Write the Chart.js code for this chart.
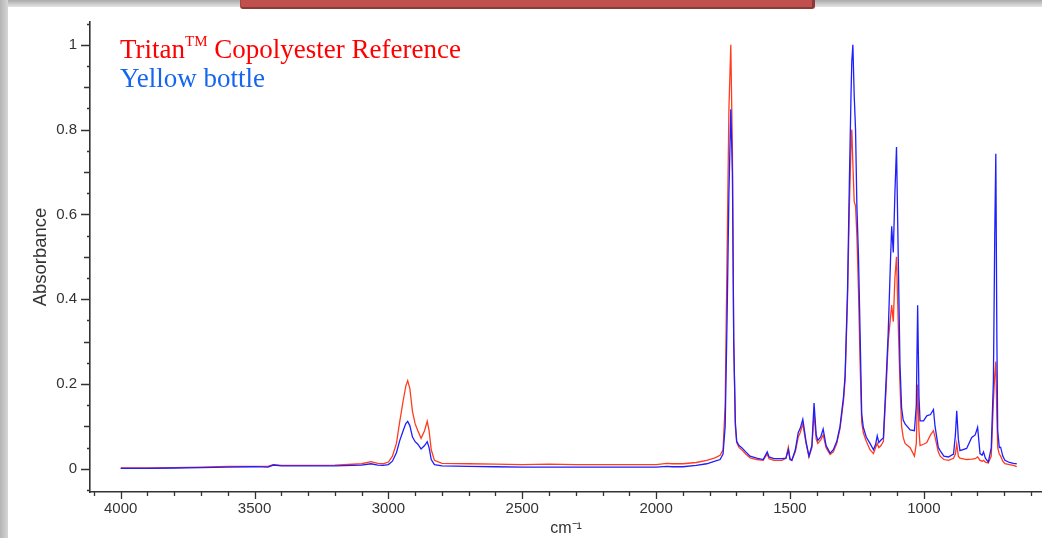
<!DOCTYPE html>
<html>
<head>
<meta charset="utf-8">
<script src="https://cdn.jsdelivr.net/npm/chart.js@4.4.1/dist/chart.umd.min.js"></script>
<style>
  html, body { margin: 0; padding: 0; background: #fff; }
  #wrap { position: relative; width: 1042px; height: 538px; overflow: hidden; background: #fff; }
  #spectrum { position: absolute; left: 0; top: 0; }
  .edge-top { position: absolute; left: 0; top: 0; width: 1042px; height: 7px; background: linear-gradient(to bottom, #aaaaaa, #e4e4e4); }
  .edge-left { position: absolute; left: 0; top: 0; width: 8px; height: 538px; background: linear-gradient(to right, #b4b4b4, #d6d6d6); }
  .banner { position: absolute; left: 240px; top: 0; width: 571px; height: 7px; background: #c0504d; border-bottom: 2px solid #8c3a38; border-right: 3px solid #8c3a38; border-left: 1px solid #a84542; border-radius: 0 0 3px 3px; }
  .legend { position: absolute; left: 120px; top: 35px; font-family: "Liberation Serif", "Times New Roman", serif; font-size: 27px; line-height: 29px; white-space: nowrap; }
  .legend .ref { color: #ff0000; }
  .legend .bottle { color: #1466f0; }
  .legend .tm { font-size: 15px; line-height: 0; position: relative; top: -12px; }
</style>
</head>
<body>
<div id="wrap">
  <canvas id="spectrum" width="1042" height="538"></canvas>
  <div class="edge-top"></div>
  <div class="edge-left"></div>
  <div class="banner"></div>
  <div class="legend">
    <div class="ref">Tritan<span class="tm">TM</span> Copolyester Reference</div>
    <div class="bottle">Yellow bottle</div>
  </div>
</div>
<script>
// wavenumber (cm-1) and absorbance
const wavenumbers = [4000, 3900, 3800, 3700, 3600, 3500, 3450, 3430, 3400, 3300, 3200, 3100, 3065, 3040, 3020, 3000,
  2985, 2970, 2958, 2945, 2935, 2928, 2920, 2910, 2900, 2890, 2878, 2865, 2855, 2848, 2840, 2828, 2800, 2700, 2600,
  2500, 2400, 2300, 2200, 2100, 2000, 1960, 1940, 1900, 1850, 1811, 1780, 1761, 1750, 1742, 1735, 1728, 1721, 1715,
  1710, 1704, 1699, 1690, 1680, 1665, 1649, 1624, 1600, 1585, 1578, 1560, 1530, 1515, 1506, 1500, 1493, 1480, 1469,
  1462, 1452, 1440, 1429, 1418, 1410, 1402, 1396, 1385, 1376, 1365, 1350, 1338, 1325, 1313, 1300, 1294, 1285, 1278,
  1272, 1269, 1265, 1260, 1255, 1250, 1244, 1238, 1232, 1226, 1215, 1201, 1188, 1180, 1174, 1168, 1160, 1151, 1140,
  1133, 1124, 1120, 1114, 1108, 1102, 1095, 1089, 1083, 1077, 1070, 1051, 1035, 1028, 1023, 1018, 1014, 1001, 989,
  975, 964, 958, 946, 939, 925, 908, 889, 882, 877, 871, 865, 840, 821, 808, 799, 790, 782, 777, 770, 759, 748, 740,
  735, 731, 727, 724, 718, 713, 705, 697, 680, 665, 653];

const tritanAbs = [0.002, 0.002, 0.003, 0.004, 0.006, 0.006, 0.006, 0.010, 0.008, 0.008, 0.009, 0.012, 0.017, 0.013, 0.012, 0.016,
  0.030, 0.060, 0.110, 0.160, 0.195, 0.208, 0.190, 0.135, 0.106, 0.090, 0.072, 0.090, 0.112, 0.090, 0.045, 0.020, 0.013, 0.012, 0.011,
  0.010, 0.011, 0.010, 0.010, 0.010, 0.010, 0.013, 0.012, 0.012, 0.015, 0.020, 0.026, 0.032, 0.045, 0.150, 0.500, 0.850, 1.000, 0.750,
  0.300, 0.100, 0.062, 0.050, 0.045, 0.035, 0.026, 0.022, 0.020, 0.035, 0.024, 0.020, 0.020, 0.025, 0.051, 0.025, 0.020, 0.040, 0.075,
  0.085, 0.106, 0.060, 0.028, 0.050, 0.133, 0.070, 0.060, 0.068, 0.080, 0.050, 0.034, 0.040, 0.060, 0.095, 0.160, 0.210, 0.400, 0.620,
  0.760, 0.800, 0.720, 0.630, 0.620, 0.550, 0.420, 0.250, 0.110, 0.085, 0.065, 0.045, 0.036, 0.050, 0.060, 0.050, 0.055, 0.065, 0.200,
  0.300, 0.360, 0.386, 0.347, 0.450, 0.500, 0.330, 0.200, 0.100, 0.074, 0.060, 0.050, 0.030, 0.060, 0.199, 0.090, 0.055, 0.058, 0.062,
  0.080, 0.090, 0.075, 0.040, 0.030, 0.022, 0.020, 0.025, 0.035, 0.059, 0.030, 0.025, 0.022, 0.023, 0.024, 0.028, 0.020, 0.018, 0.020, 0.016, 0.014, 0.030, 0.160,
  0.220, 0.253, 0.120, 0.050, 0.035, 0.030, 0.018, 0.012, 0.010, 0.008, 0.005];

const bottleAbs = [0.001, 0.001, 0.002, 0.003, 0.004, 0.005, 0.004, 0.009, 0.007, 0.007, 0.007, 0.009, 0.012, 0.009, 0.008, 0.010,
  0.018, 0.038, 0.066, 0.090, 0.107, 0.112, 0.102, 0.075, 0.064, 0.058, 0.047, 0.055, 0.064, 0.050, 0.022, 0.010, 0.007, 0.006, 0.005,
  0.004, 0.004, 0.004, 0.004, 0.004, 0.004, 0.006, 0.005, 0.005, 0.008, 0.012, 0.018, 0.022, 0.035, 0.100, 0.350, 0.650, 0.848, 0.700,
  0.300, 0.110, 0.065, 0.055, 0.050, 0.040, 0.030, 0.025, 0.022, 0.040, 0.028, 0.024, 0.024, 0.025, 0.045, 0.022, 0.020, 0.045, 0.086,
  0.095, 0.117, 0.065, 0.030, 0.055, 0.155, 0.080, 0.067, 0.075, 0.094, 0.055, 0.037, 0.045, 0.065, 0.100, 0.170, 0.220, 0.420, 0.680,
  0.880, 0.960, 1.000, 0.880, 0.800, 0.620, 0.500, 0.320, 0.130, 0.098, 0.075, 0.060, 0.045, 0.058, 0.078, 0.062, 0.068, 0.073, 0.220,
  0.320, 0.500, 0.572, 0.510, 0.650, 0.759, 0.480, 0.246, 0.144, 0.115, 0.106, 0.092, 0.090, 0.150, 0.386, 0.170, 0.113, 0.113, 0.125,
  0.128, 0.140, 0.100, 0.051, 0.043, 0.030, 0.028, 0.035, 0.080, 0.137, 0.070, 0.043, 0.048, 0.074, 0.080, 0.098, 0.036, 0.032, 0.040, 0.025, 0.016, 0.050, 0.207,
  0.550, 0.743, 0.300, 0.090, 0.050, 0.051, 0.030, 0.020, 0.015, 0.013, 0.012];

const xLabelTicks = [1000, 1500, 2000, 2500, 3000, 3500, 4000];
const yLabelTicks = [0, 0.2, 0.4, 0.6, 0.8, 1];

const xMin = 558.5, xMax = 4114.7;
const yMin = -0.0546, yMax = 1.0537;

// minor tick positions every 100 cm-1 and every 0.05 absorbance
const xTickMarks = [];
for (let v = 600; v <= 4100; v += 100) xTickMarks.push(v);
const yTickMarks = [];
for (let k = -1; k <= 21; k++) yTickMarks.push(k / 20);

const tickMarks = {
  id: 'tickMarks',
  afterDraw(chart) {
    const { ctx, scales: { x, y } } = chart;
    ctx.save();
    ctx.strokeStyle = '#333';
    ctx.lineWidth = 1.3;
    ctx.beginPath();
    xTickMarks.forEach((v) => {
      const px = Math.round(x.getPixelForValue(v)) + 0.5;
      const len = v % 500 === 0 ? 7 : 4;
      ctx.moveTo(px, chart.chartArea.bottom);
      ctx.lineTo(px, chart.chartArea.bottom + len);
    });
    yTickMarks.forEach((v) => {
      const py = Math.round(y.getPixelForValue(v)) + 0.5;
      const k = Math.round(v * 20);
      const len = k % 4 === 0 ? 9 : (k % 2 === 0 ? 6 : 3);
      ctx.moveTo(chart.chartArea.left, py);
      ctx.lineTo(chart.chartArea.left - len, py);
    });
    ctx.stroke();
    ctx.restore();
  }
};

function toPoints(values) {
  return wavenumbers.map((w, i) => ({ x: w, y: values[i] }));
}

new Chart(document.getElementById('spectrum'), {
  type: 'line',
  data: {
    datasets: [
      {
        label: 'Tritan Copolyester Reference',
        data: toPoints(tritanAbs),
        borderColor: 'rgb(255, 60, 30)',
        borderWidth: 1.3,
        pointRadius: 0,
        tension: 0,
        order: 2
      },
      {
        label: 'Yellow bottle',
        data: toPoints(bottleAbs),
        borderColor: 'rgb(30, 30, 255)',
        borderWidth: 1.3,
        pointRadius: 0,
        tension: 0,
        order: 1
      }
    ]
  },
  options: {
    responsive: false,
    animation: false,
    layout: { padding: { top: 17, left: 27, right: 0, bottom: 0 } },
    plugins: { legend: { display: false }, tooltip: { enabled: false } },
    scales: {
      x: {
        type: 'linear',
        reverse: true,
        min: xMin,
        max: xMax,
        afterBuildTicks: (scale) => { scale.ticks = xLabelTicks.map((v) => ({ value: v })); },
        afterFit: (scale) => { scale.height = 46; },
        grid: { display: false, drawTicks: false },
        border: { display: true, color: '#333', width: 1.6 },
        ticks: {
          autoSkip: false,
          maxRotation: 0,
          padding: 8,
          color: '#333',
          font: { family: '"Liberation Sans", Arial, sans-serif', size: 15 },
          callback: (v) => String(v)
        },
        title: {
          display: true,
          text: 'cm\u207B\u00B9',
          color: '#333',
          padding: { top: 4, bottom: 0 },
          font: { family: '"Liberation Sans", Arial, sans-serif', size: 16 }
        }
      },
      y: {
        type: 'linear',
        min: yMin,
        max: yMax,
        afterBuildTicks: (scale) => { scale.ticks = yLabelTicks.map((v) => ({ value: v })); },
        afterFit: (scale) => { scale.width = 63; },
        grid: { display: false, drawTicks: false },
        border: { display: true, color: '#333', width: 1.6 },
        ticks: {
          autoSkip: false,
          padding: 13,
          color: '#333',
          font: { family: '"Liberation Sans", Arial, sans-serif', size: 15 },
          callback: (v) => String(v)
        },
        title: {
          display: true,
          text: 'Absorbance',
          color: '#333',
          padding: { top: 3, bottom: 0 },
          font: { family: '"Liberation Sans", Arial, sans-serif', size: 18.5 }
        }
      }
    }
  },
  plugins: [tickMarks]
});
</script>
</body>
</html>
